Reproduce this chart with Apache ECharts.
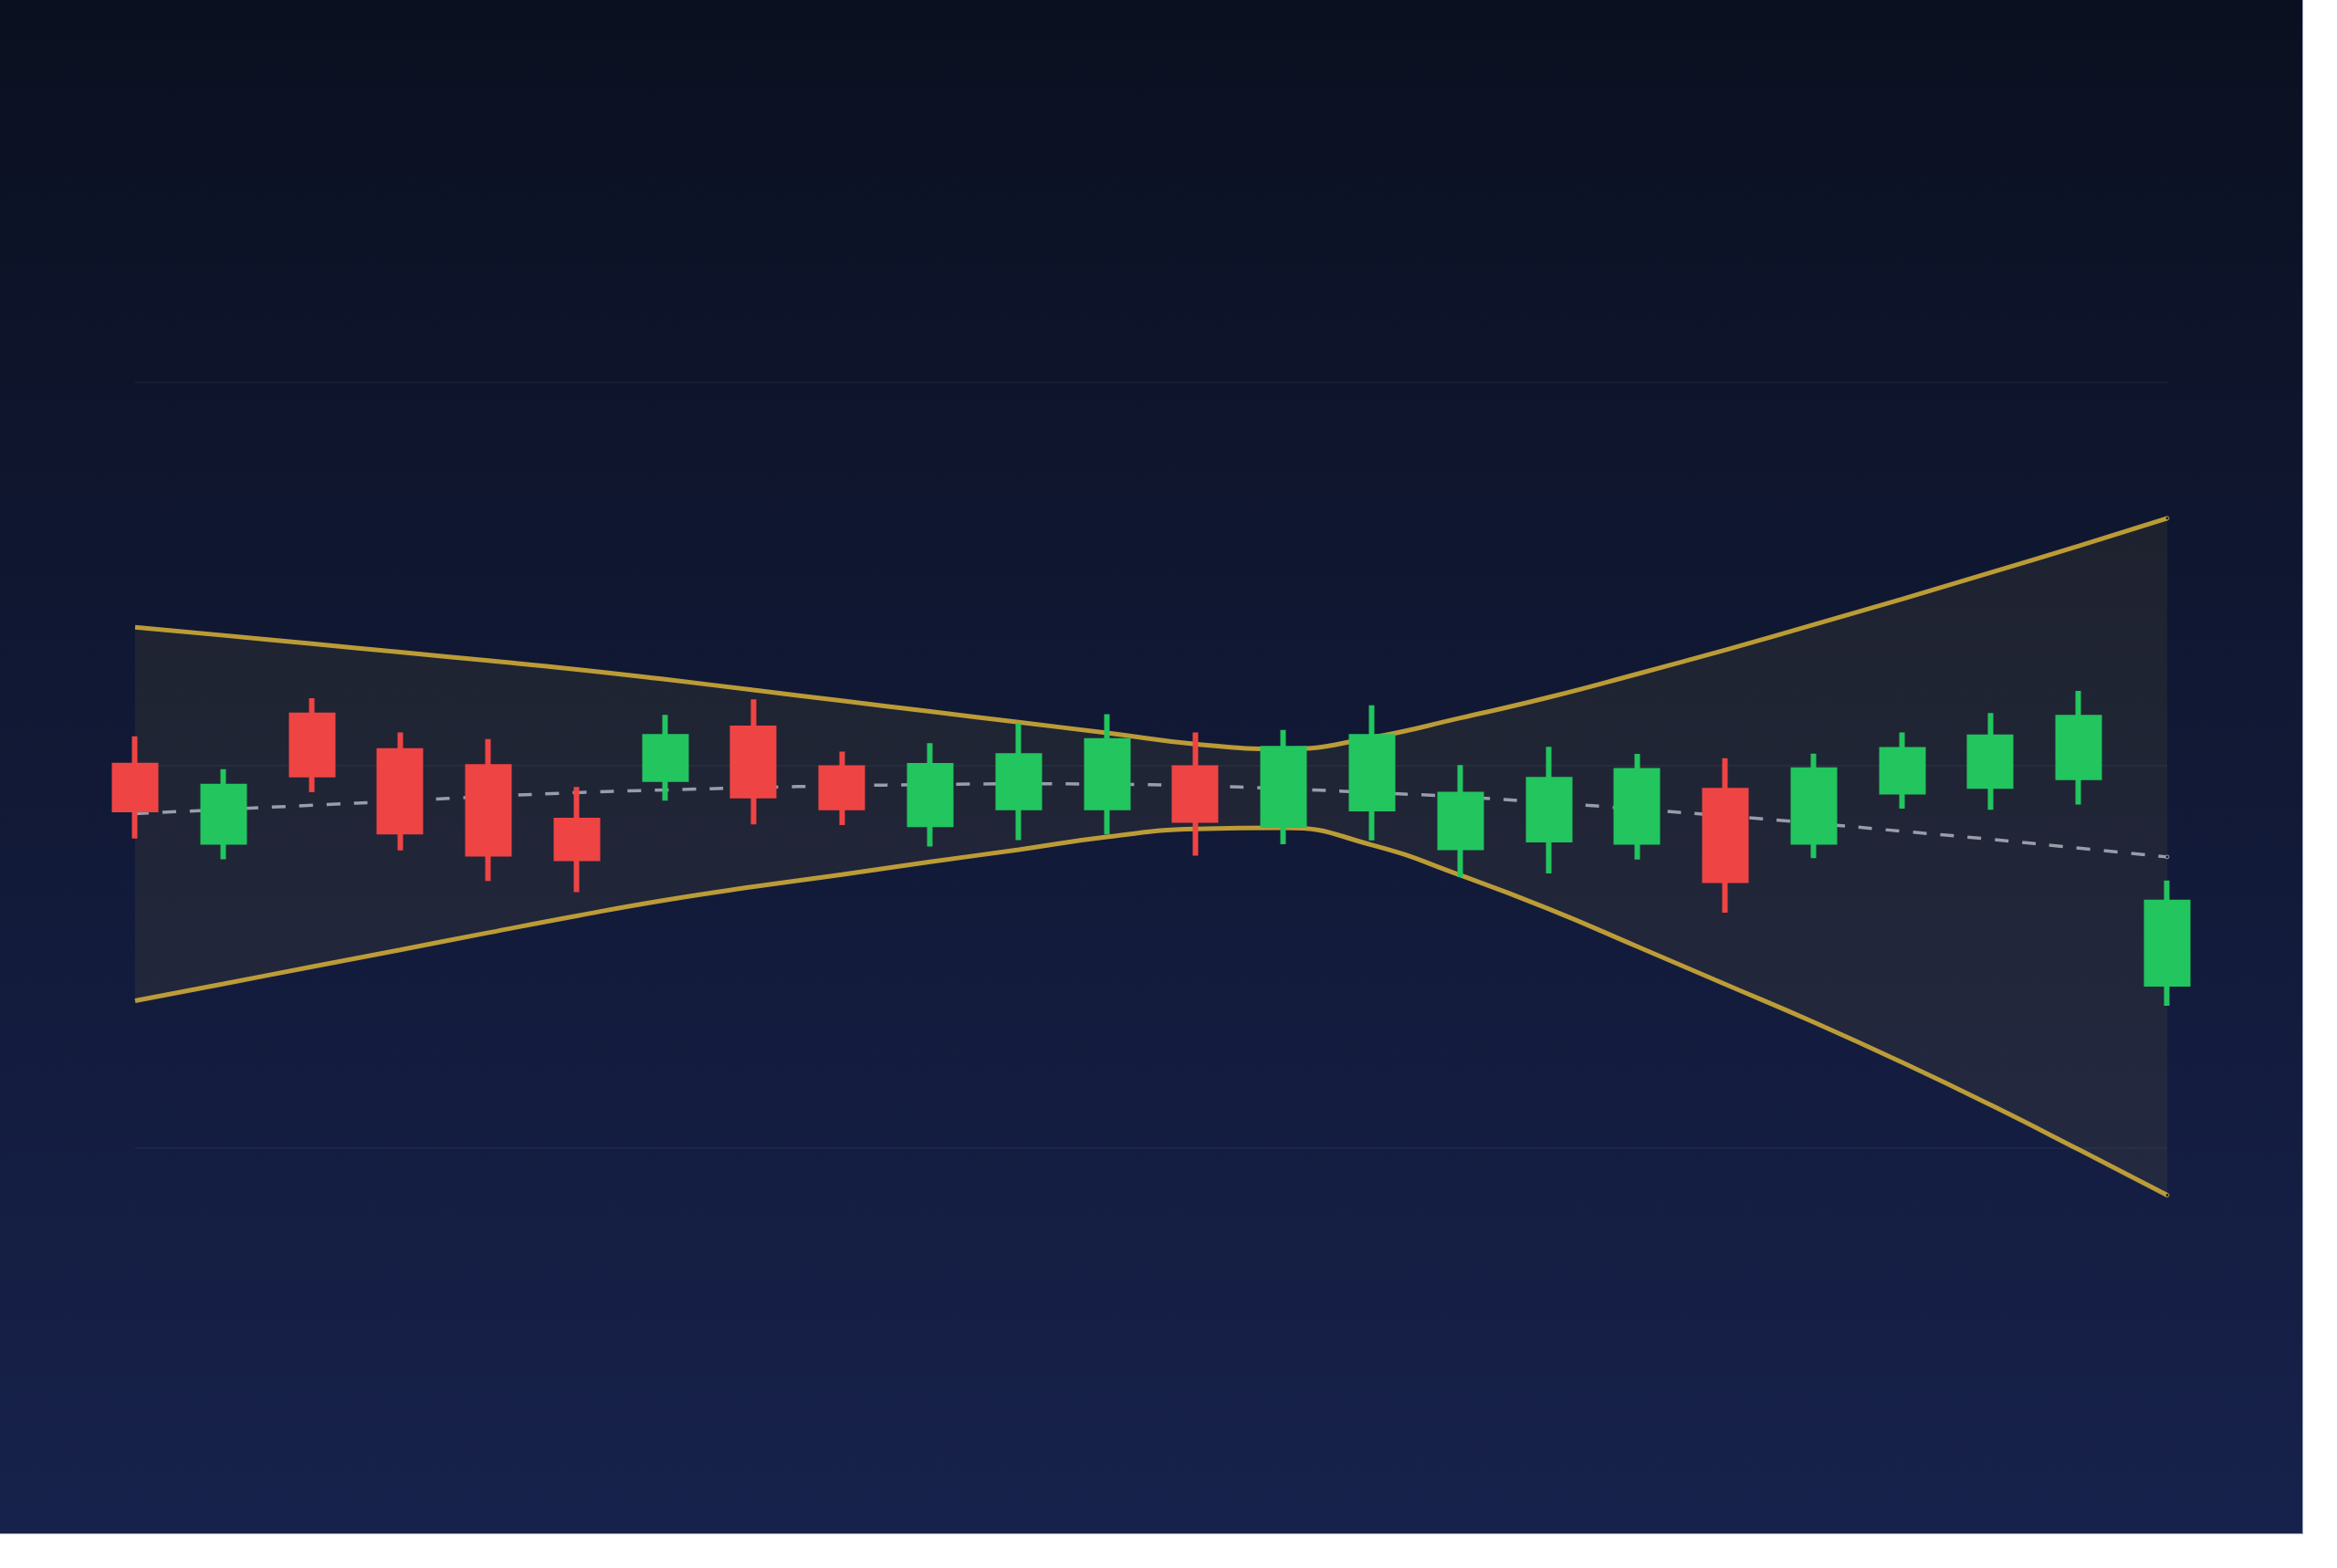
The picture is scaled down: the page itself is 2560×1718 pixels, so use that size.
<!DOCTYPE html>
<html>
<head>
<meta charset="utf-8">
<script src="https://cdn.jsdelivr.net/npm/echarts@6/dist/echarts.min.js"></script>
<style>
  html, body { margin: 0; padding: 0; background: #ffffff; }
  #chart { position: absolute; left: 0; top: 0; width: 2522px; height: 1680px;
           border-right: 1px solid rgba(80,95,140,0.55); border-bottom: 1px solid rgba(80,95,140,0.55); }
</style>
</head>
<body>
<div id="chart"></div>
<script>
const categories = ['1','2','3','4','5','6','7','8','9','10','11','12','13','14','15','16','17','18','19','20','21','22','23','24'];

const openValues  = [99.99, 97.99, 101.30, 100.37, 99.95, 98.55, 99.63, 100.96, 99.92, 98.45, 98.89, 98.89, 99.92, 98.43, 98.86, 97.85, 98.05, 97.99, 99.33, 97.99, 99.30, 99.45, 99.68, 94.28];
const closeValues = [98.84, 99.44, 99.75, 98.26, 97.68, 97.56, 100.74, 99.20, 98.89, 99.98, 100.24, 100.63, 98.56, 100.43, 100.74, 99.23, 99.62, 99.85, 96.99, 99.87, 100.40, 100.73, 101.24, 96.41];
const lowValues   = [98.08, 97.54, 99.29, 97.77, 96.97, 96.68, 99.07, 98.45, 98.43, 97.87, 98.04, 98.19, 97.63, 97.93, 98.03, 97.07, 97.17, 97.53, 96.14, 97.57, 98.86, 98.83, 98.97, 93.71];
const highValues  = [100.75, 99.89, 101.75, 100.85, 100.68, 99.43, 101.31, 101.72, 100.35, 100.57, 101.09, 101.33, 100.85, 100.92, 101.56, 100.00, 100.48, 100.29, 100.18, 100.30, 100.85, 101.36, 101.94, 96.98];

const upperBand  = [103.60, 103.39, 103.17, 102.95, 102.73, 102.50, 102.24, 101.96, 101.68, 101.40, 101.12, 100.84, 100.55, 100.42, 100.72, 101.23, 101.77, 102.38, 103.01, 103.67, 104.34, 105.03, 105.73, 106.45];
const lowerBand  = [93.84, 94.28, 94.73, 95.17, 95.62, 96.06, 96.47, 96.82, 97.14, 97.47, 97.79, 98.12, 98.33, 98.36, 97.91, 97.12, 96.24, 95.26, 94.27, 93.28, 92.23, 91.12, 89.95, 88.76];
const middleBand = [98.73, 98.84, 98.95, 99.06, 99.18, 99.28, 99.35, 99.41, 99.46, 99.49, 99.51, 99.50, 99.46, 99.38, 99.28, 99.17, 99.02, 98.85, 98.67, 98.48, 98.27, 98.06, 97.83, 97.60];

const yTicks = [90, 100, 110];

const GOLD = 'rgba(212,175,55,0.87)';
const MID = 'rgba(168,174,186,0.88)';
const UP = '#22c55e';
const DOWN = '#ef4444';

const candleData = categories.map((_, i) => [openValues[i], closeValues[i], lowValues[i], highValues[i]]);
const bandWidthValues = upperBand.map((u, i) => +(u - lowerBand[i]).toFixed(4));

function withEndMarker(arr, color) {
  return arr.map((v, i) => i === arr.length - 1
    ? { value: v, symbol: 'circle', symbolSize: 4, itemStyle: { color: '#141b33', borderColor: color, borderWidth: 1 } }
    : { value: v, symbol: 'none' });
}

const chart = echarts.init(document.getElementById('chart'), null, { renderer: 'canvas' });
chart.setOption({
  animation: false,
  backgroundColor: {
    type: 'linear', x: 0, y: 0, x2: 0, y2: 1,
    colorStops: [ { offset: 0, color: '#0b1020' }, { offset: 1, color: '#17224c' } ]
  },
  grid: { left: 148, right: 148, top: 419, bottom: 422.5 },
  xAxis: {
    type: 'category', data: categories, boundaryGap: false,
    axisLine: { show: false }, axisTick: { show: false }, axisLabel: { show: false }, splitLine: { show: false }
  },
  yAxis: {
    type: 'value', min: yTicks[0], max: yTicks[yTicks.length - 1], interval: yTicks[1] - yTicks[0],
    axisLine: { show: false }, axisTick: { show: false }, axisLabel: { show: false },
    splitLine: { show: true, lineStyle: { color: 'rgba(148,163,184,0.09)', width: 1.5 } }
  },
  series: [
    {
      name: 'bandBase', type: 'line', data: lowerBand, stack: 'band', smooth: true,
      symbol: 'none', showSymbol: false, lineStyle: { opacity: 0 }, clip: false, z: 1, silent: true
    },
    {
      name: 'bandFill', type: 'line', data: bandWidthValues, stack: 'band', smooth: true,
      symbol: 'none', showSymbol: false, lineStyle: { opacity: 0 },
      areaStyle: { color: 'rgba(212,175,55,0.08)', opacity: 1 }, clip: false, z: 1, silent: true
    },
    {
      name: 'Middle', type: 'line', data: withEndMarker(middleBand, MID), smooth: true,
      showSymbol: true, lineStyle: { color: MID, width: 3.5, type: [15, 15] },
      itemStyle: { color: MID }, clip: false, z: 2
    },
    {
      name: 'Upper', type: 'line', data: withEndMarker(upperBand, GOLD), smooth: true,
      showSymbol: true, lineStyle: { color: GOLD, width: 5 }, itemStyle: { color: GOLD }, clip: false, z: 3
    },
    {
      name: 'Lower', type: 'line', data: withEndMarker(lowerBand, GOLD), smooth: true,
      showSymbol: true, lineStyle: { color: GOLD, width: 5 }, itemStyle: { color: GOLD }, clip: false, z: 3
    },
    {
      name: 'Price', type: 'candlestick', data: candleData, barWidth: '47%', clip: false, z: 5,
      itemStyle: { color: UP, color0: DOWN, borderColor: UP, borderColor0: DOWN, borderWidth: 6 }
    }
  ]
});
</script>
</body>
</html>
